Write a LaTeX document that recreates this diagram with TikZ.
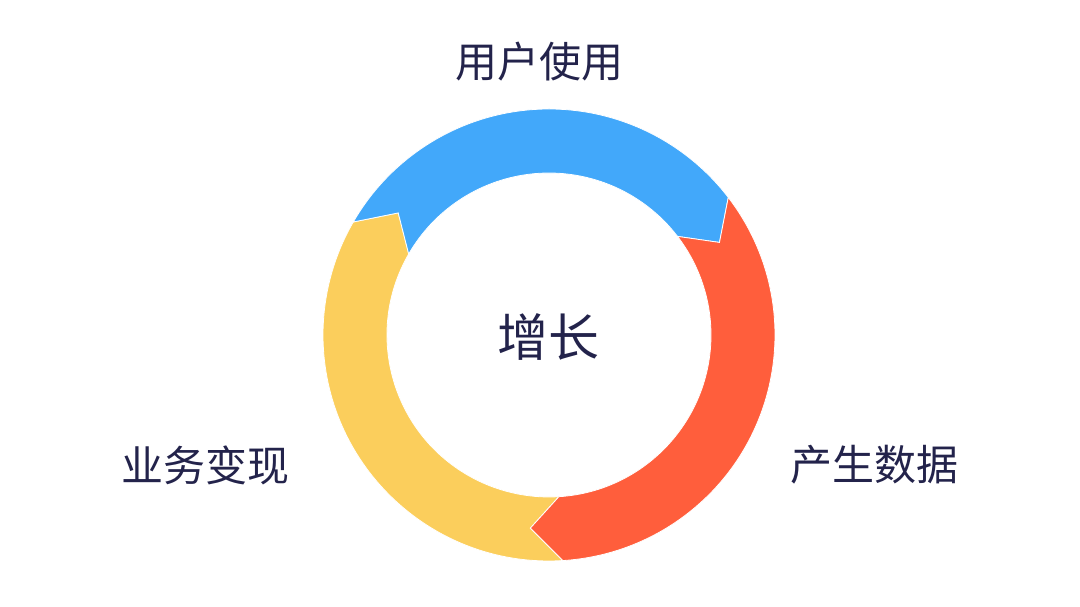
\documentclass[tikz,border=0pt]{standalone}
\usepackage{fontspec}
\newfontfamily\cjk{Noto Sans CJK SC}
\usetikzlibrary{positioning}

\definecolor{useblue}{RGB}{66,168,250}
\definecolor{datared}{RGB}{255,94,60}
\definecolor{cashyellow}{RGB}{251,206,92}
\definecolor{inkblue}{RGB}{35,35,75}

\tikzset{
	seg/.style={draw=white, line width=0.8pt},
	lbl/.style={text=inkblue, font=\cjk\fontsize{42}{48}\selectfont, inner sep=0pt},
}

% one ring piece: colour, start angle, end angle (clockwise)
\newcommand{\ringseg}[3]{%
	\filldraw[seg, fill=#1] (#2:226) arc[start angle=#2, end angle=#3, radius=226]
		-- ({#3-9}:194) -- (#3:162) arc[start angle=#3, end angle=#2, radius=162]
		-- ({#2-9}:194) -- cycle;}

\begin{document}
\begin{tikzpicture}[x=1pt, y=1pt]
	\useasboundingbox (-549,-272) rectangle (531,335);

	\ringseg{cashyellow}{273.5}{150}
	\ringseg{useblue}{150}{37.5}
	\ringseg{datared}{37.5}{-86.5}

	\node[lbl, font=\cjk\fontsize{51}{58}\selectfont] (grow) at (0,-2) {增长};
	\node[lbl] (use) at (-9,273) {用户使用};
	\node[lbl] (data) at (326,-130) {产生数据};
	\node[lbl] (cash) at (-343,-130) {业务变现};
\end{tikzpicture}
\end{document}
